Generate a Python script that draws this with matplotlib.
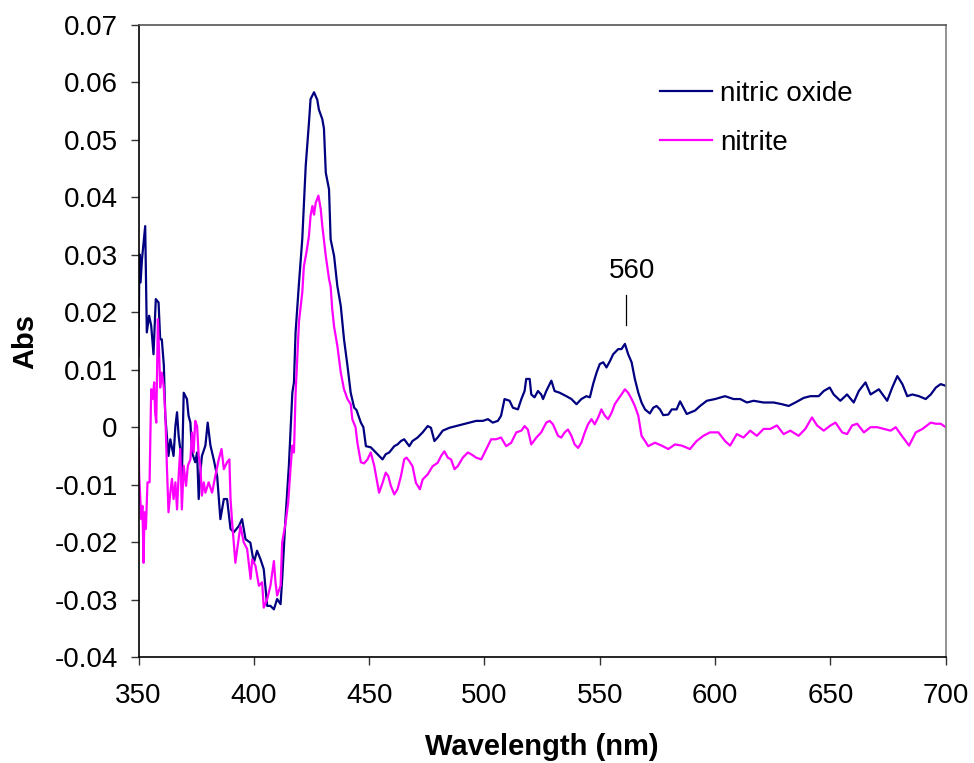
import matplotlib
matplotlib.use("Agg")
import matplotlib.pyplot as plt
from matplotlib.ticker import FuncFormatter, MultipleLocator

plt.rcParams["font.family"] = ["Liberation Sans", "DejaVu Sans"]
plt.rcParams["axes.unicode_minus"] = False

# Difference spectra (absorbance vs wavelength in nm)
no_wl = [350.0, 350.4, 350.9, 351.5, 352.2, 352.9, 353.6, 354.6, 355.5, 356.5,
         357.5, 358.7, 359.4, 360.1, 361.0, 361.6, 363.0, 363.8, 365.2, 366.0,
         366.7, 367.4, 368.1, 368.8, 369.6, 371.0, 371.7, 372.5, 373.2, 374.6,
         375.4, 376.1, 376.8, 377.5, 379.0, 380.0, 381.2, 382.6, 384.1, 385.5,
         387.0, 388.4, 389.9, 391.3, 393.5, 394.9, 396.4, 398.5, 400.0, 401.4,
         402.9, 404.3, 405.8, 407.2, 408.7, 410.1, 411.6, 412.3, 413.8, 415.2,
         416.7, 417.4, 418.1, 419.6, 421.0, 421.7, 422.5, 423.9, 424.6, 426.1,
         427.5, 428.2, 429.7, 430.4, 431.2, 432.6, 433.3, 434.8, 436.2, 437.7,
         439.1, 440.6, 442.0, 443.5, 444.5, 446.4, 447.5, 448.6, 450.7, 452.9,
         454.3, 455.8, 457.2, 458.7, 460.9, 462.3, 463.8, 465.2, 467.4, 468.8,
         471.0, 473.2, 475.4, 476.8, 478.3, 479.7, 481.9, 484.8, 487.7, 490.6,
         493.5, 496.4, 499.3, 501.5, 503.6, 505.8, 507.2, 508.7, 510.9, 512.3,
         514.5, 516.0, 517.4, 518.1, 519.6, 520.3, 521.7, 523.2, 524.6, 525.4,
         526.8, 529.0, 530.4, 532.6, 535.5, 537.7, 539.9, 542.0, 544.2, 545.7,
         547.1, 548.6, 550.0, 551.5, 552.9, 554.4, 555.8, 558.0, 559.4, 560.9,
         562.3, 563.8, 565.2, 566.7, 568.1, 569.6, 571.7, 573.2, 574.6, 576.1,
         577.5, 579.7, 581.2, 583.3, 584.8, 587.7, 591.3, 593.5, 596.4, 600.0,
         604.3, 608.0, 610.9, 613.8, 616.7, 621.0, 625.4, 629.0, 631.9, 634.8,
         638.4, 641.3, 644.9, 647.1, 649.7, 651.4, 654.3, 657.2, 660.1, 662.3,
         665.2, 667.4, 671.0, 674.6, 676.8, 679.0, 681.2, 683.3, 685.5, 688.4,
         691.3, 693.5, 695.7, 697.8, 700.0]
no_abs = [0.0124, 0.0301, 0.0252, 0.0292, 0.0321, 0.0350, 0.0165, 0.0194, 0.0177, 0.0127,
          0.0223, 0.0217, 0.0153, 0.0153, 0.0107, 0.0020, -0.0050, -0.0021, -0.0050, 0.0002,
          0.0026, -0.0015, -0.0038, -0.0085, 0.0060, 0.0049, 0.0020, 0.0008, -0.0044, -0.0061,
          -0.0044, -0.0125, -0.0079, -0.0050, -0.0032, 0.0008, -0.0032, -0.0056, -0.0085, -0.0160,
          -0.0125, -0.0125, -0.0177, -0.0183, -0.0172, -0.0160, -0.0195, -0.0201, -0.0236, -0.0215,
          -0.0230, -0.0247, -0.0311, -0.0311, -0.0317, -0.0299, -0.0308, -0.0264, -0.0154, -0.0067,
          0.0060, 0.0078, 0.0165, 0.0252, 0.0327, 0.0385, 0.0455, 0.0530, 0.0571, 0.0583,
          0.0570, 0.0553, 0.0536, 0.0520, 0.0443, 0.0414, 0.0327, 0.0298, 0.0246, 0.0211,
          0.0153, 0.0107, 0.0060, 0.0034, 0.0030, 0.0008, 0.0000, -0.0033, -0.0035, -0.0044,
          -0.0050, -0.0056, -0.0047, -0.0044, -0.0033, -0.0030, -0.0024, -0.0021, -0.0033, -0.0024,
          -0.0018, -0.0009, 0.0002, -0.0001, -0.0024, -0.0018, -0.0006, -0.0001, 0.0002, 0.0005,
          0.0008, 0.0011, 0.0011, 0.0014, 0.0008, 0.0011, 0.0020, 0.0049, 0.0046, 0.0034,
          0.0031, 0.0049, 0.0063, 0.0084, 0.0084, 0.0057, 0.0052, 0.0063, 0.0057, 0.0049,
          0.0063, 0.0081, 0.0063, 0.0060, 0.0054, 0.0049, 0.0040, 0.0049, 0.0054, 0.0052,
          0.0075, 0.0095, 0.0110, 0.0113, 0.0104, 0.0115, 0.0127, 0.0136, 0.0136, 0.0145,
          0.0127, 0.0113, 0.0084, 0.0060, 0.0043, 0.0031, 0.0024, 0.0034, 0.0037, 0.0031,
          0.0021, 0.0022, 0.0031, 0.0031, 0.0045, 0.0023, 0.0029, 0.0037, 0.0046, 0.0049,
          0.0054, 0.0049, 0.0049, 0.0043, 0.0046, 0.0043, 0.0043, 0.0040, 0.0037, 0.0043,
          0.0051, 0.0054, 0.0054, 0.0063, 0.0069, 0.0057, 0.0046, 0.0057, 0.0043, 0.0063,
          0.0078, 0.0057, 0.0066, 0.0046, 0.0069, 0.0089, 0.0075, 0.0054, 0.0057, 0.0054,
          0.0049, 0.0057, 0.0069, 0.0075, 0.0072]

nitrite_wl = [350.0, 350.3, 351.2, 351.7, 352.2, 352.6, 353.2, 353.9, 354.8, 355.5,
              356.1, 356.8, 357.2, 357.7, 358.4, 359.0, 359.4, 360.1, 360.9, 361.6,
              362.3, 363.0, 363.8, 364.5, 365.2, 366.0, 366.7, 367.4, 368.1, 368.8,
              369.6, 370.6, 371.4, 372.5, 373.2, 373.9, 374.6, 375.4, 376.1, 376.8,
              377.5, 378.3, 379.0, 380.4, 381.9, 383.3, 384.8, 386.0, 387.0, 388.4,
              389.4, 389.9, 390.6, 392.0, 392.8, 394.2, 395.6, 397.1, 398.6, 399.3,
              400.7, 402.2, 403.6, 404.3, 405.8, 407.2, 408.7, 409.4, 410.1, 411.6,
              412.3, 413.8, 414.9, 416.0, 416.7, 417.4, 418.1, 419.6, 421.0, 421.7,
              422.8, 423.9, 424.6, 425.4, 426.1, 426.8, 428.0, 429.0, 429.7, 431.2,
              432.6, 433.3, 434.0, 434.8, 436.2, 437.7, 439.1, 440.6, 442.0, 442.7,
              444.1, 444.9, 446.4, 447.8, 449.3, 450.7, 452.2, 454.3, 455.8, 457.2,
              458.3, 459.4, 460.9, 462.3, 463.8, 465.2, 466.2, 467.4, 468.8, 470.3,
              472.0, 473.2, 475.4, 477.5, 479.7, 481.2, 482.6, 484.1, 485.5, 487.0,
              488.4, 490.6, 492.8, 494.2, 496.4, 498.6, 500.7, 502.9, 505.0, 507.2,
              509.4, 511.6, 513.8, 516.0, 517.4, 518.8, 520.3, 522.5, 524.6, 526.8,
              528.3, 529.7, 531.9, 533.3, 534.8, 536.2, 537.7, 539.1, 540.6, 542.0,
              543.5, 544.9, 546.4, 547.8, 549.3, 550.7, 552.2, 553.6, 555.1, 556.5,
              558.0, 559.4, 560.9, 562.3, 563.8, 565.2, 566.7, 568.1, 569.6, 571.0,
              573.9, 576.8, 579.7, 582.6, 585.5, 589.1, 592.0, 594.9, 597.8, 601.4,
              604.3, 606.5, 609.4, 612.3, 615.2, 618.1, 621.0, 623.9, 626.8, 629.7,
              632.6, 636.2, 639.1, 642.0, 644.2, 647.1, 650.0, 652.2, 655.1, 657.2,
              659.4, 661.6, 664.5, 667.4, 670.3, 673.2, 676.1, 678.3, 680.4, 682.6,
              684.1, 687.0, 689.9, 693.5, 695.7, 697.8, 700.0]
nitrite_abs = [-0.0018, -0.0085, -0.0160, -0.0137, -0.0236, -0.0148, -0.0177, -0.0096, -0.0096, 0.0066,
               0.0049, 0.0078, 0.0026, 0.0008, 0.0188, 0.0124, 0.0069, 0.0095, 0.0072, 0.0026,
               -0.0067, -0.0148, -0.0114, -0.0090, -0.0125, -0.0096, -0.0143, -0.0085, -0.0038, -0.0143,
               -0.0067, -0.0102, -0.0067, -0.0056, -0.0009, -0.0044, 0.0011, 0.0002, -0.0050, -0.0067,
               -0.0119, -0.0096, -0.0114, -0.0096, -0.0114, -0.0085, -0.0056, -0.0038, -0.0073, -0.0061,
               -0.0056, -0.0125, -0.0166, -0.0236, -0.0212, -0.0172, -0.0200, -0.0212, -0.0264, -0.0230,
               -0.0241, -0.0276, -0.0270, -0.0314, -0.0299, -0.0276, -0.0233, -0.0270, -0.0293, -0.0276,
               -0.0200, -0.0166, -0.0131, -0.0067, -0.0032, -0.0044, 0.0058, 0.0185, 0.0234, 0.0280,
               0.0304, 0.0333, 0.0368, 0.0385, 0.0370, 0.0390, 0.0403, 0.0380, 0.0350, 0.0298,
               0.0258, 0.0245, 0.0205, 0.0175, 0.0142, 0.0095, 0.0066, 0.0049, 0.0040, 0.0014,
               0.0000, -0.0027, -0.0061, -0.0063, -0.0056, -0.0044, -0.0067, -0.0114, -0.0097, -0.0079,
               -0.0085, -0.0102, -0.0117, -0.0108, -0.0085, -0.0056, -0.0053, -0.0059, -0.0068, -0.0097,
               -0.0108, -0.0091, -0.0082, -0.0068, -0.0062, -0.0050, -0.0042, -0.0053, -0.0056, -0.0073,
               -0.0068, -0.0053, -0.0044, -0.0047, -0.0053, -0.0056, -0.0039, -0.0021, -0.0021, -0.0018,
               -0.0033, -0.0027, -0.0009, -0.0006, 0.0002, -0.0004, -0.0030, -0.0018, -0.0009, 0.0008,
               0.0011, 0.0005, -0.0015, -0.0018, -0.0009, -0.0004, -0.0015, -0.0030, -0.0036, -0.0027,
               -0.0009, 0.0005, 0.0014, 0.0005, 0.0017, 0.0031, 0.0020, 0.0014, 0.0025, 0.0040,
               0.0049, 0.0057, 0.0066, 0.0060, 0.0049, 0.0037, 0.0020, -0.0015, -0.0024, -0.0033,
               -0.0027, -0.0032, -0.0038, -0.0030, -0.0032, -0.0038, -0.0024, -0.0015, -0.0009, -0.0009,
               -0.0024, -0.0032, -0.0012, -0.0018, -0.0006, -0.0015, -0.0003, -0.0003, 0.0003, -0.0012,
               -0.0006, -0.0015, -0.0003, 0.0017, 0.0003, -0.0006, 0.0003, 0.0008, -0.0009, -0.0012,
               0.0003, 0.0006, -0.0009, 0.0000, 0.0000, -0.0003, -0.0006, 0.0000, -0.0012, -0.0024,
               -0.0032, -0.0009, -0.0003, 0.0008, 0.0006, 0.0006, 0.0000]

series_labels = ["nitric oxide", "nitrite"]
series_colors = ["#000080", "#FF00FF"]

peak_label = "560"
peak_wl = 561.5

x_ticks = [350, 400, 450, 500, 550, 600, 650, 700]

fig = plt.figure(figsize=(9.74, 7.63), dpi=100)
ax = fig.add_axes([0.1422, 0.1389, 0.8288, 0.8283])

ax.plot(no_wl, no_abs, color=series_colors[0], lw=1.6, label=series_labels[0])
ax.plot(nitrite_wl, nitrite_abs, color=series_colors[1], lw=1.6, label=series_labels[1])

# Peak marker
ax.plot([peak_wl, peak_wl], [0.0178, 0.0230], color="black", lw=0.9)
ax.text(peak_wl + 2.5, 0.0272, peak_label, ha="center", va="center", fontsize=20)

ax.set_xlim(350, 700)
ax.set_ylim(-0.04, 0.07)
ax.set_xticks(x_ticks)
ax.yaxis.set_major_locator(MultipleLocator(0.01))
ax.yaxis.set_major_formatter(FuncFormatter(lambda v, p: "0" if abs(v) < 1e-9 else f"{v:.2f}"))

ax.tick_params(axis="both", direction="out", length=6, width=1, labelsize=20, color="#333333")
ax.tick_params(axis="y", pad=9)
ax.tick_params(axis="x", pad=13)

ax.spines["left"].set_color("black")
ax.spines["bottom"].set_color("black")
ax.spines["top"].set_color("#555555")
ax.spines["right"].set_color("#808080")
for s in ax.spines.values():
    s.set_linewidth(1.2)

ax.set_xlabel("Wavelength (nm)", fontsize=21, fontweight="bold", labelpad=17)
ax.set_ylabel("Abs", fontsize=21, fontweight="bold", labelpad=11)

ax.legend(loc="upper left", bbox_to_anchor=(0.646, 0.912), frameon=False, fontsize=20,
          handlelength=1.87, handletextpad=0.3, labelspacing=0.83, borderpad=0,
          borderaxespad=0)

fig.savefig("out.png", dpi=100)
